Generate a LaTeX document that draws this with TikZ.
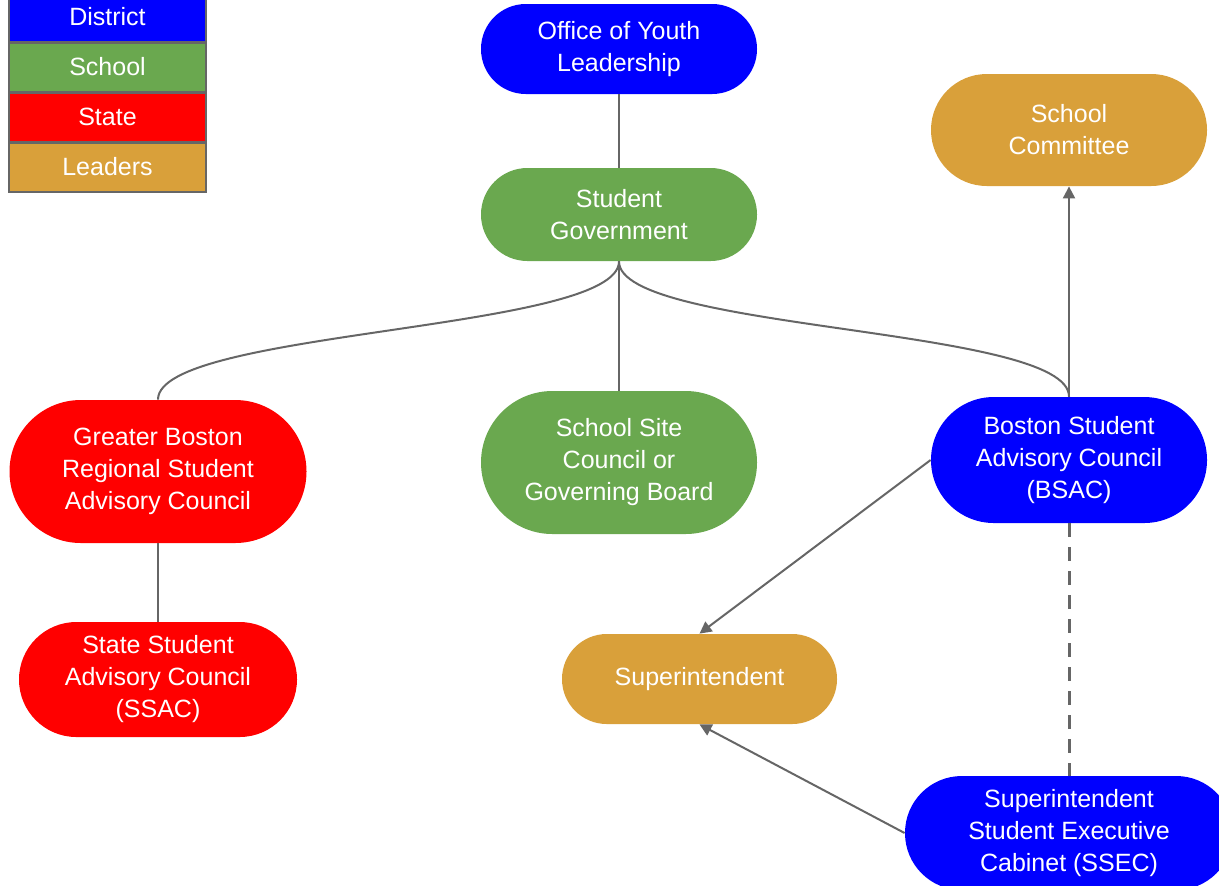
\documentclass[tikz,border=0pt]{standalone}
\usepackage{fontspec}
\setmainfont{Liberation Sans}
\usetikzlibrary{positioning, arrows.meta}

\definecolor{districtblue}{HTML}{0000FF}
\definecolor{schoolgreen}{HTML}{6AA84F}
\definecolor{statered}{HTML}{FF0000}
\definecolor{leadergold}{HTML}{D9A03A}
\definecolor{linegray}{HTML}{666666}

\begin{document}
\begin{tikzpicture}[
    x=0.5pt, y=-0.5pt,
    every node/.style={font=\fontsize{12.5}{16}\selectfont, text=white, align=center, inner sep=0pt},
    pill/.style n args={3}{rectangle, minimum width=#1, minimum height=#2, rounded corners=#3},
    district/.style={fill=districtblue},
    school/.style={fill=schoolgreen},
    state/.style={fill=statered},
    leader/.style={fill=leadergold},
    key/.style={rectangle, draw=linegray, line width=1pt, minimum width=98.5pt, minimum height=24.5pt},
    link/.style={draw=linegray, line width=1pt},
    arrow/.style={link, -{Triangle[width=6pt, length=6pt]}}
]

\useasboundingbox (0,0) rectangle (1219,885);
\clip (0,0) rectangle (1219,885);

% Legend
\node[key, district] (key_district) at (107.5,17) {District};
\node[key, school, below=-0.5pt of key_district] (key_school) {School};
\node[key, state, below=-0.5pt of key_school] (key_state) {State};
\node[key, leader, below=-0.5pt of key_state] (key_leader) {Leaders};

% centre column
\node[pill={138pt}{45pt}{22.4pt}, district] (oyl) at (619,49) {Office of Youth\\Leadership};
\node[pill={138pt}{46.5pt}{23.2pt}, school] (sg) at (619,214.5) {Student\\Government};
\node[pill={138pt}{71.5pt}{35.7pt}, school] (ssc) at (619,462.5) {School Site\\Council or\\Governing Board};
\node[pill={137.5pt}{45pt}{22.4pt}, leader] (supt) at (699.5,679) {Superintendent};

% state column
\node[pill={148.5pt}{71.5pt}{35.7pt}, state] (gb) at (158,471.5) {Greater Boston\\Regional Student\\Advisory Council};
\node[pill={139pt}{57.5pt}{28.7pt}, state] (ssac) at (158,679.5) {State Student\\Advisory Council\\(SSAC)};

% district column
\node[pill={138pt}{56pt}{27.9pt}, leader] (committee) at (1069,130) {School\\Committee};
\node[pill={138pt}{63pt}{31.4pt}, district] (bsac) at (1069,460) {Boston Student\\Advisory Council\\(BSAC)};
\node[pill={164pt}{57pt}{28.4pt}, district] (ssec) at (1069,833) {Superintendent\\Student Executive\\Cabinet (SSEC)};

% edges
\draw[link] (oyl) -- (sg);
\draw[link] (sg.south) -- (ssc.north);
\draw[link] (sg.south) .. controls +(0,70) and +(0,-70) .. (gb.north);
\draw[link] (sg.south) .. controls +(0,70) and +(0,-70) .. (bsac.north);
\draw[link] (gb) -- (ssac);
\draw[arrow] (bsac.north) -- (committee.south);
\draw[arrow] (bsac.west) -- (supt.north);
\draw[arrow] (ssec.west) -- (supt.south);
\draw[link, line width=1.5pt, dash pattern=on 7pt off 5pt] (bsac.south) -- (ssec.north);

\end{tikzpicture}
\end{document}
